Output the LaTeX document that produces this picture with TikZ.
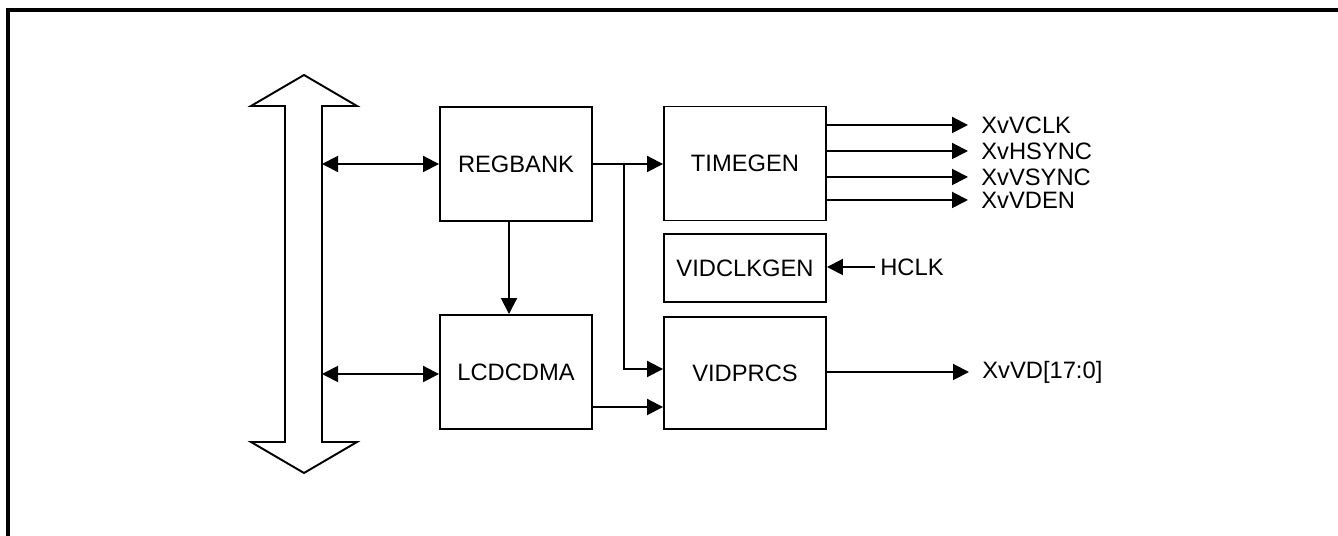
\documentclass[tikz,border=0pt]{standalone}
\usepackage{fontspec}
\setmainfont{Liberation Sans}
\usetikzlibrary{arrows.meta,calc}
\tikzset{
  blk/.style={draw, line width=1.1pt, minimum height=2.28cm, inner sep=0pt,
              font=\fontsize{13.5}{16}\selectfont},
  lblk/.style={blk, minimum width=3.04cm},
  rblk/.style={blk, minimum width=3.24cm},
  sig/.style={anchor=west, inner sep=0pt, inner xsep=0.26cm,
              font=\fontsize{13.5}{16}\selectfont},
  arr/.style={-{Triangle[length=0.32cm, width=0.32cm]}, line width=1.1pt},
  biarr/.style={{Triangle[length=0.32cm, width=0.32cm]}-{Triangle[length=0.32cm, width=0.32cm]}, line width=1.1pt},
  bus/.style={draw, line width=1.1pt, line join=miter}
}
\begin{document}
\begin{tikzpicture}
\useasboundingbox (0,0) rectangle (26.76,10.72);
% frame
\draw[line width=1.8pt] (0.16,0) -- (0.16,10.52) -- (26.76,10.52);
% system bus
\draw[bus] (6.08,9.22) -- (7.14,8.60) -- (6.44,8.60) -- (6.44,1.88) -- (7.14,1.88)
  -- (6.08,1.26) -- (5.02,1.88) -- (5.70,1.88) -- (5.70,8.60) -- (5.02,8.60) -- cycle;
\coordinate (busa) at (6.44,7.44);
\coordinate (busb) at (6.44,3.24);
% blocks
\node[lblk] (rb) at (10.32,7.44) {REGBANK};
\node[lblk] (lc) at (10.32,3.28) {LCDCDMA};
\node[rblk] (tg) at (14.90,7.45) {TIMEGEN};
\node[rblk, minimum height=1.36cm] (vc) at (14.90,5.36) {VIDCLKGEN};
\node[rblk, minimum height=2.24cm] (vp) at (14.90,3.26) {VIDPRCS};
% bus connections
\draw[biarr] (busa) -- (busa -| rb.west);
\draw[biarr] (busb) -- (busb -| lc.west);
% internal paths
\coordinate (br) at (12.48,7.44);
\draw[arr] (rb.east) -- (tg.west |- rb.east);
\draw[arr] (br) |- ([yshift=0.08cm]vp.west);
\draw[arr] ([xshift=-0.14cm]rb.south) -- ([xshift=-0.14cm]rb.south |- lc.north);
\draw[arr] ([yshift=-0.70cm]lc.east) -- ([yshift=-0.70cm]lc.east -| vp.west);
% timing outputs
\foreach \name/\txt/\y in {oa/XvVCLK/8.22, ob/XvHSYNC/7.70, oc/XvVSYNC/7.18, od/XvVDEN/6.72}{
  \node[sig] (\name) at (19.36,\y) {\txt};
  \draw[arr] (tg.east |- \name.west) -- (\name.west);
}
% clock input
\node[sig, inner xsep=0.1cm] (hclk) at (17.50,5.38) {HCLK};
\draw[arr] (hclk.west) -- (vc.east |- hclk.west);
% data output
\node[sig] (vd) at (19.38,3.28) {XvVD[17:0]};
\draw[arr] (vp.east |- vd.west) -- (vd.west);
\end{tikzpicture}
\end{document}
